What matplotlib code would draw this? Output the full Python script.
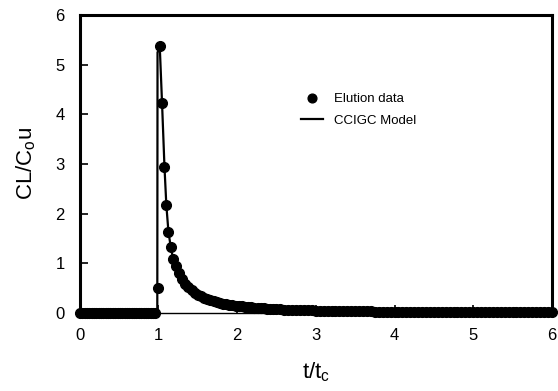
import numpy as np
import matplotlib
matplotlib.use("Agg")
import matplotlib.pyplot as plt

plt.rcParams['font.family'] = ['Liberation Sans', 'DejaVu Sans']

# elution data: flat baseline before breakthrough
t_base = np.round(np.arange(0.0, 0.97, 0.03), 3)
y_base = [0.0] * len(t_base)

# peak region
t_peak = [0.992, 1.018, 1.046, 1.076, 1.100, 1.127, 1.157, 1.187]
y_peak = [0.50, 5.37, 4.22, 2.94, 2.17, 1.63, 1.32, 1.08]

# decaying tail, near part
t_tail1 = np.round(np.arange(1.22, 2.51, 0.04), 3)
y_tail1 = [0.95, 0.80, 0.68, 0.59, 0.52, 0.46, 0.41, 0.37, 0.34, 0.31,
           0.28, 0.26, 0.24, 0.22, 0.205, 0.19, 0.178, 0.167, 0.157, 0.148,
           0.14, 0.132, 0.125, 0.118, 0.112, 0.106, 0.101, 0.096, 0.091, 0.087,
           0.083, 0.079, 0.076]

# far tail
t_tail2 = np.round(np.arange(2.55, 6.001, 0.05), 3)
y_tail2 = [0.072, 0.069, 0.066, 0.063, 0.060, 0.058, 0.056, 0.054, 0.052, 0.050,
           0.048, 0.046, 0.044, 0.043, 0.041, 0.040, 0.038, 0.037, 0.036, 0.035,
           0.034, 0.033, 0.032, 0.031, 0.030, 0.029, 0.028, 0.027, 0.026, 0.026,
           0.025, 0.024, 0.024, 0.023, 0.022, 0.022, 0.021, 0.021, 0.020, 0.020,
           0.019, 0.019, 0.018, 0.018, 0.017, 0.017, 0.017, 0.016, 0.016, 0.016,
           0.015, 0.015, 0.015, 0.014, 0.014, 0.014, 0.014, 0.013, 0.013, 0.013,
           0.013, 0.012, 0.012, 0.012, 0.012, 0.012, 0.011, 0.011, 0.011, 0.011]

# CCIGC model: sharp front then follows the decay
t_model_front = [0.0, 0.985, 0.988, 1.018, 1.046, 1.076, 1.100, 1.127, 1.157, 1.187]
y_model_front = [0.0, 0.0, 5.25, 5.30, 4.20, 2.95, 2.17, 1.63, 1.32, 1.08]

t_data = np.concatenate([t_base, t_peak, t_tail1, t_tail2[:len(y_tail2)]])
y_data = np.concatenate([y_base, y_peak, y_tail1, y_tail2])
t_model = np.concatenate([t_model_front, t_tail1, t_tail2[:len(y_tail2)]])
y_model = np.concatenate([y_model_front, y_tail1, y_tail2])

fig = plt.figure(figsize=(5.58, 3.91), dpi=100)
ax = fig.add_axes([0.143, 0.1995, 0.846, 0.7625])

ax.plot(t_data, y_data, 'o', color='black', markersize=7, label='Elution data', clip_on=False, zorder=3)
ax.plot(t_model, y_model, '-', color='black', linewidth=1.6, label='CCIGC Model', clip_on=False)

ax.set_xlim(0, 6)
ax.set_ylim(0, 6)
ax.set_xticks(range(0, 7))
ax.set_yticks(range(0, 7))
ax.tick_params(direction='in', length=6, width=1.2, labelsize=12)
ax.tick_params(axis='y', pad=11)
ax.tick_params(axis='x', pad=11)
for s in ['left', 'top', 'right']:
    ax.spines[s].set_linewidth(2.2)
ax.spines['bottom'].set_linewidth(1.0)

ax.set_xlabel("t/t$_\\mathregular{c}$", fontsize=16, labelpad=12)
ax.set_ylabel("CL/C$_\\mathregular{o}$u", fontsize=16, labelpad=12)

ax.legend(loc='upper left', bbox_to_anchor=(0.457, 0.755), frameon=False, fontsize=9.5,
          handlelength=1.7, handletextpad=0.8, labelspacing=0.7, borderaxespad=0,
          markerscale=0.9)

fig.savefig("out.png", dpi=100)
